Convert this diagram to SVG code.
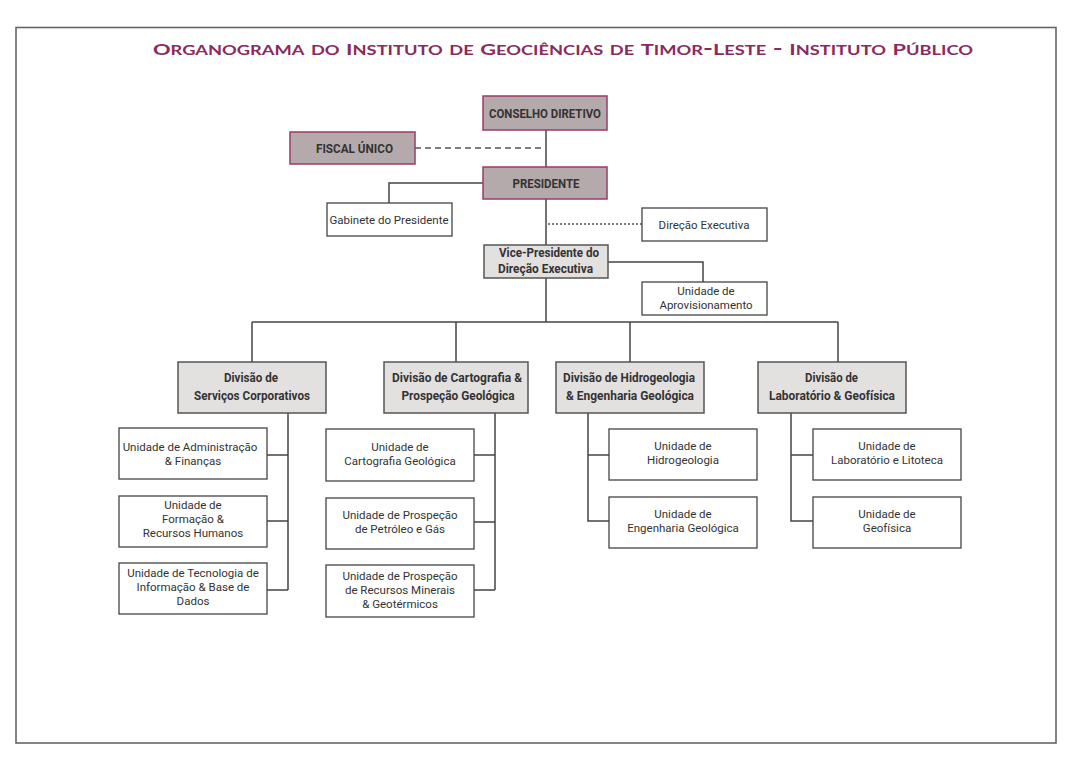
<svg xmlns="http://www.w3.org/2000/svg" width="1080" height="763" viewBox="0 0 1080 763">
<style>
.title{font-family:Lato,"Open Sans","Liberation Sans",sans-serif;font-weight:700;font-size:19px;font-variant:small-caps;fill:#8b2a5e}
.title .c{font-size:15.5px}
.top rect{fill:#b5aaab;stroke:#9a3a68;stroke-width:1.5}
.div rect{fill:#e3e0e0;stroke:#555;stroke-width:1.5}
.unit rect{fill:#fff;stroke:#444;stroke-width:1.3}
.b{font-family:Roboto,"Liberation Sans",sans-serif;font-weight:700;font-size:13px;fill:#333;text-anchor:middle}
.n{font-family:Roboto,"Liberation Sans",sans-serif;font-size:11.5px;fill:#333;text-anchor:middle}
.ln{fill:none;stroke:#444;stroke-width:1.5}
.dash{fill:none;stroke:#555;stroke-width:1.3;stroke-dasharray:6 4}
.dot{fill:none;stroke:#555;stroke-width:1.3;stroke-dasharray:2 2}
</style>
<rect x="0" y="0" width="1080" height="763" fill="#fff"/>
<rect x="16" y="27.5" width="1040" height="715.5" fill="none" stroke="#666" stroke-width="1.6"/>
<text class="title" x="153" y="55" textLength="820" lengthAdjust="spacingAndGlyphs"><tspan class="c">O</tspan>rganograma do <tspan class="c">I</tspan>nstituto de <tspan class="c">G</tspan>eociências de <tspan class="c">T</tspan>imor-<tspan class="c">L</tspan>este - <tspan class="c">I</tspan>nstituto <tspan class="c">P</tspan>úblico</text>

<g id="connectors">
<path class="ln" d="M546,130V167"/>
<path class="dash" d="M415,148H545"/>
<path class="ln" d="M546,199V245"/>
<path class="ln" d="M483,183H389V203"/>
<path class="dot" d="M548,224H642"/>
<path class="ln" d="M608,262H703V282"/>
<path class="ln" d="M546,278V322"/>
<path class="ln" d="M252,322H838"/>
<path class="ln" d="M252,322V362M456,322V362M630,322V362M838,322V362"/>
<path class="ln" d="M288,413V590M267,455H288M267,521H288M267,590H288"/>
<path class="ln" d="M495,413V590M474,455H495M474,522H495M474,590H495"/>
<path class="ln" d="M588,413V521H609M588,455H609"/>
<path class="ln" d="M791,413V521H813M791,455H813"/>
</g>

<g id="conselho-diretivo" class="top"><rect x="483" y="96" width="124" height="34"/><text class="b" x="545" y="117.5" textLength="112" lengthAdjust="spacingAndGlyphs">CONSELHO DIRETIVO</text></g>
<g id="fiscal-unico" class="top"><rect x="290" y="132" width="125" height="32"/><text class="b" x="354.5" y="152.5" textLength="77" lengthAdjust="spacingAndGlyphs">FISCAL ÚNICO</text></g>
<g id="presidente" class="top"><rect x="483" y="167" width="124" height="32"/><text class="b" x="546" y="187.5" textLength="67" lengthAdjust="spacingAndGlyphs">PRESIDENTE</text></g>

<g id="gabinete" class="unit"><rect x="327" y="203" width="125" height="33"/><text class="n" x="389" y="223.5">Gabinete do Presidente</text></g>
<g id="direcao-executiva" class="unit"><rect x="642" y="208" width="125" height="33"/><text class="n" x="704" y="228.5">Direção Executiva</text></g>

<g id="vice-presidente" class="div"><rect x="484" y="245" width="124" height="33"/>
<text class="b" x="549" y="257" textLength="100" lengthAdjust="spacingAndGlyphs">Vice-Presidente do</text>
<text class="b" x="545.5" y="273" textLength="95" lengthAdjust="spacingAndGlyphs">Direção Executiva</text></g>

<g id="aprovisionamento" class="unit"><rect x="642" y="282" width="125" height="33"/>
<text class="n" x="706" y="294.5">Unidade de</text><text class="n" x="706" y="308.5">Aprovisionamento</text></g>

<g id="div-servicos" class="div"><rect x="178" y="362" width="148" height="51"/>
<text class="b" x="251" y="382" textLength="54" lengthAdjust="spacingAndGlyphs">Divisão de</text>
<text class="b" x="252" y="399.5" textLength="116" lengthAdjust="spacingAndGlyphs">Serviços Corporativos</text></g>
<g id="div-cartografia" class="div"><rect x="384" y="362" width="144" height="51"/>
<text class="b" x="457" y="382" textLength="130" lengthAdjust="spacingAndGlyphs">Divisão de Cartografia &amp;</text>
<text class="b" x="458" y="399.5" textLength="113" lengthAdjust="spacingAndGlyphs">Prospeção Geológica</text></g>
<g id="div-hidrogeologia" class="div"><rect x="556" y="362" width="148" height="51"/>
<text class="b" x="629" y="382" textLength="132" lengthAdjust="spacingAndGlyphs">Divisão de Hidrogeologia</text>
<text class="b" x="630" y="399.5" textLength="128" lengthAdjust="spacingAndGlyphs">&amp; Engenharia Geológica</text></g>
<g id="div-laboratorio" class="div"><rect x="758" y="362" width="148" height="51"/>
<text class="b" x="831.5" y="382" textLength="53" lengthAdjust="spacingAndGlyphs">Divisão de</text>
<text class="b" x="832" y="399.5" textLength="126" lengthAdjust="spacingAndGlyphs">Laboratório &amp; Geofísica</text></g>

<g id="u-administracao" class="unit"><rect x="119" y="428" width="148" height="51"/>
<text class="n" x="190" y="450.5">Unidade de Administração</text><text class="n" x="193" y="464.5">&amp; Finanças</text></g>
<g id="u-formacao" class="unit"><rect x="119" y="496" width="148" height="51"/>
<text class="n" x="193" y="509">Unidade de</text><text class="n" x="193" y="523">Formação &amp;</text><text class="n" x="193" y="537">Recursos Humanos</text></g>
<g id="u-tecnologia" class="unit"><rect x="119" y="563" width="148" height="51"/>
<text class="n" x="193" y="577">Unidade de Tecnologia de</text><text class="n" x="193" y="591">Informação &amp; Base de</text><text class="n" x="193" y="605">Dados</text></g>

<g id="u-cartografia" class="unit"><rect x="326" y="429" width="148" height="52"/>
<text class="n" x="400" y="451">Unidade de</text><text class="n" x="400" y="465">Cartografia Geológica</text></g>
<g id="u-petroleo" class="unit"><rect x="326" y="498" width="148" height="51"/>
<text class="n" x="400" y="519">Unidade de Prospeção</text><text class="n" x="400" y="533">de Petróleo e Gás</text></g>
<g id="u-minerais" class="unit"><rect x="326" y="565" width="148" height="52"/>
<text class="n" x="400" y="580">Unidade de Prospeção</text><text class="n" x="400" y="594">de Recursos Minerais</text><text class="n" x="400" y="608">&amp; Geotérmicos</text></g>

<g id="u-hidrogeologia" class="unit"><rect x="609" y="429" width="148" height="51"/>
<text class="n" x="683" y="450">Unidade de</text><text class="n" x="683" y="464">Hidrogeologia</text></g>
<g id="u-engenharia" class="unit"><rect x="609" y="497" width="148" height="51"/>
<text class="n" x="683" y="518">Unidade de</text><text class="n" x="683" y="532">Engenharia Geológica</text></g>

<g id="u-laboratorio" class="unit"><rect x="813" y="429" width="148" height="51"/>
<text class="n" x="887" y="450">Unidade de</text><text class="n" x="887" y="464">Laboratório e Litoteca</text></g>
<g id="u-geofisica" class="unit"><rect x="813" y="497" width="148" height="51"/>
<text class="n" x="887" y="518">Unidade de</text><text class="n" x="887" y="532">Geofísica</text></g>
</svg>
